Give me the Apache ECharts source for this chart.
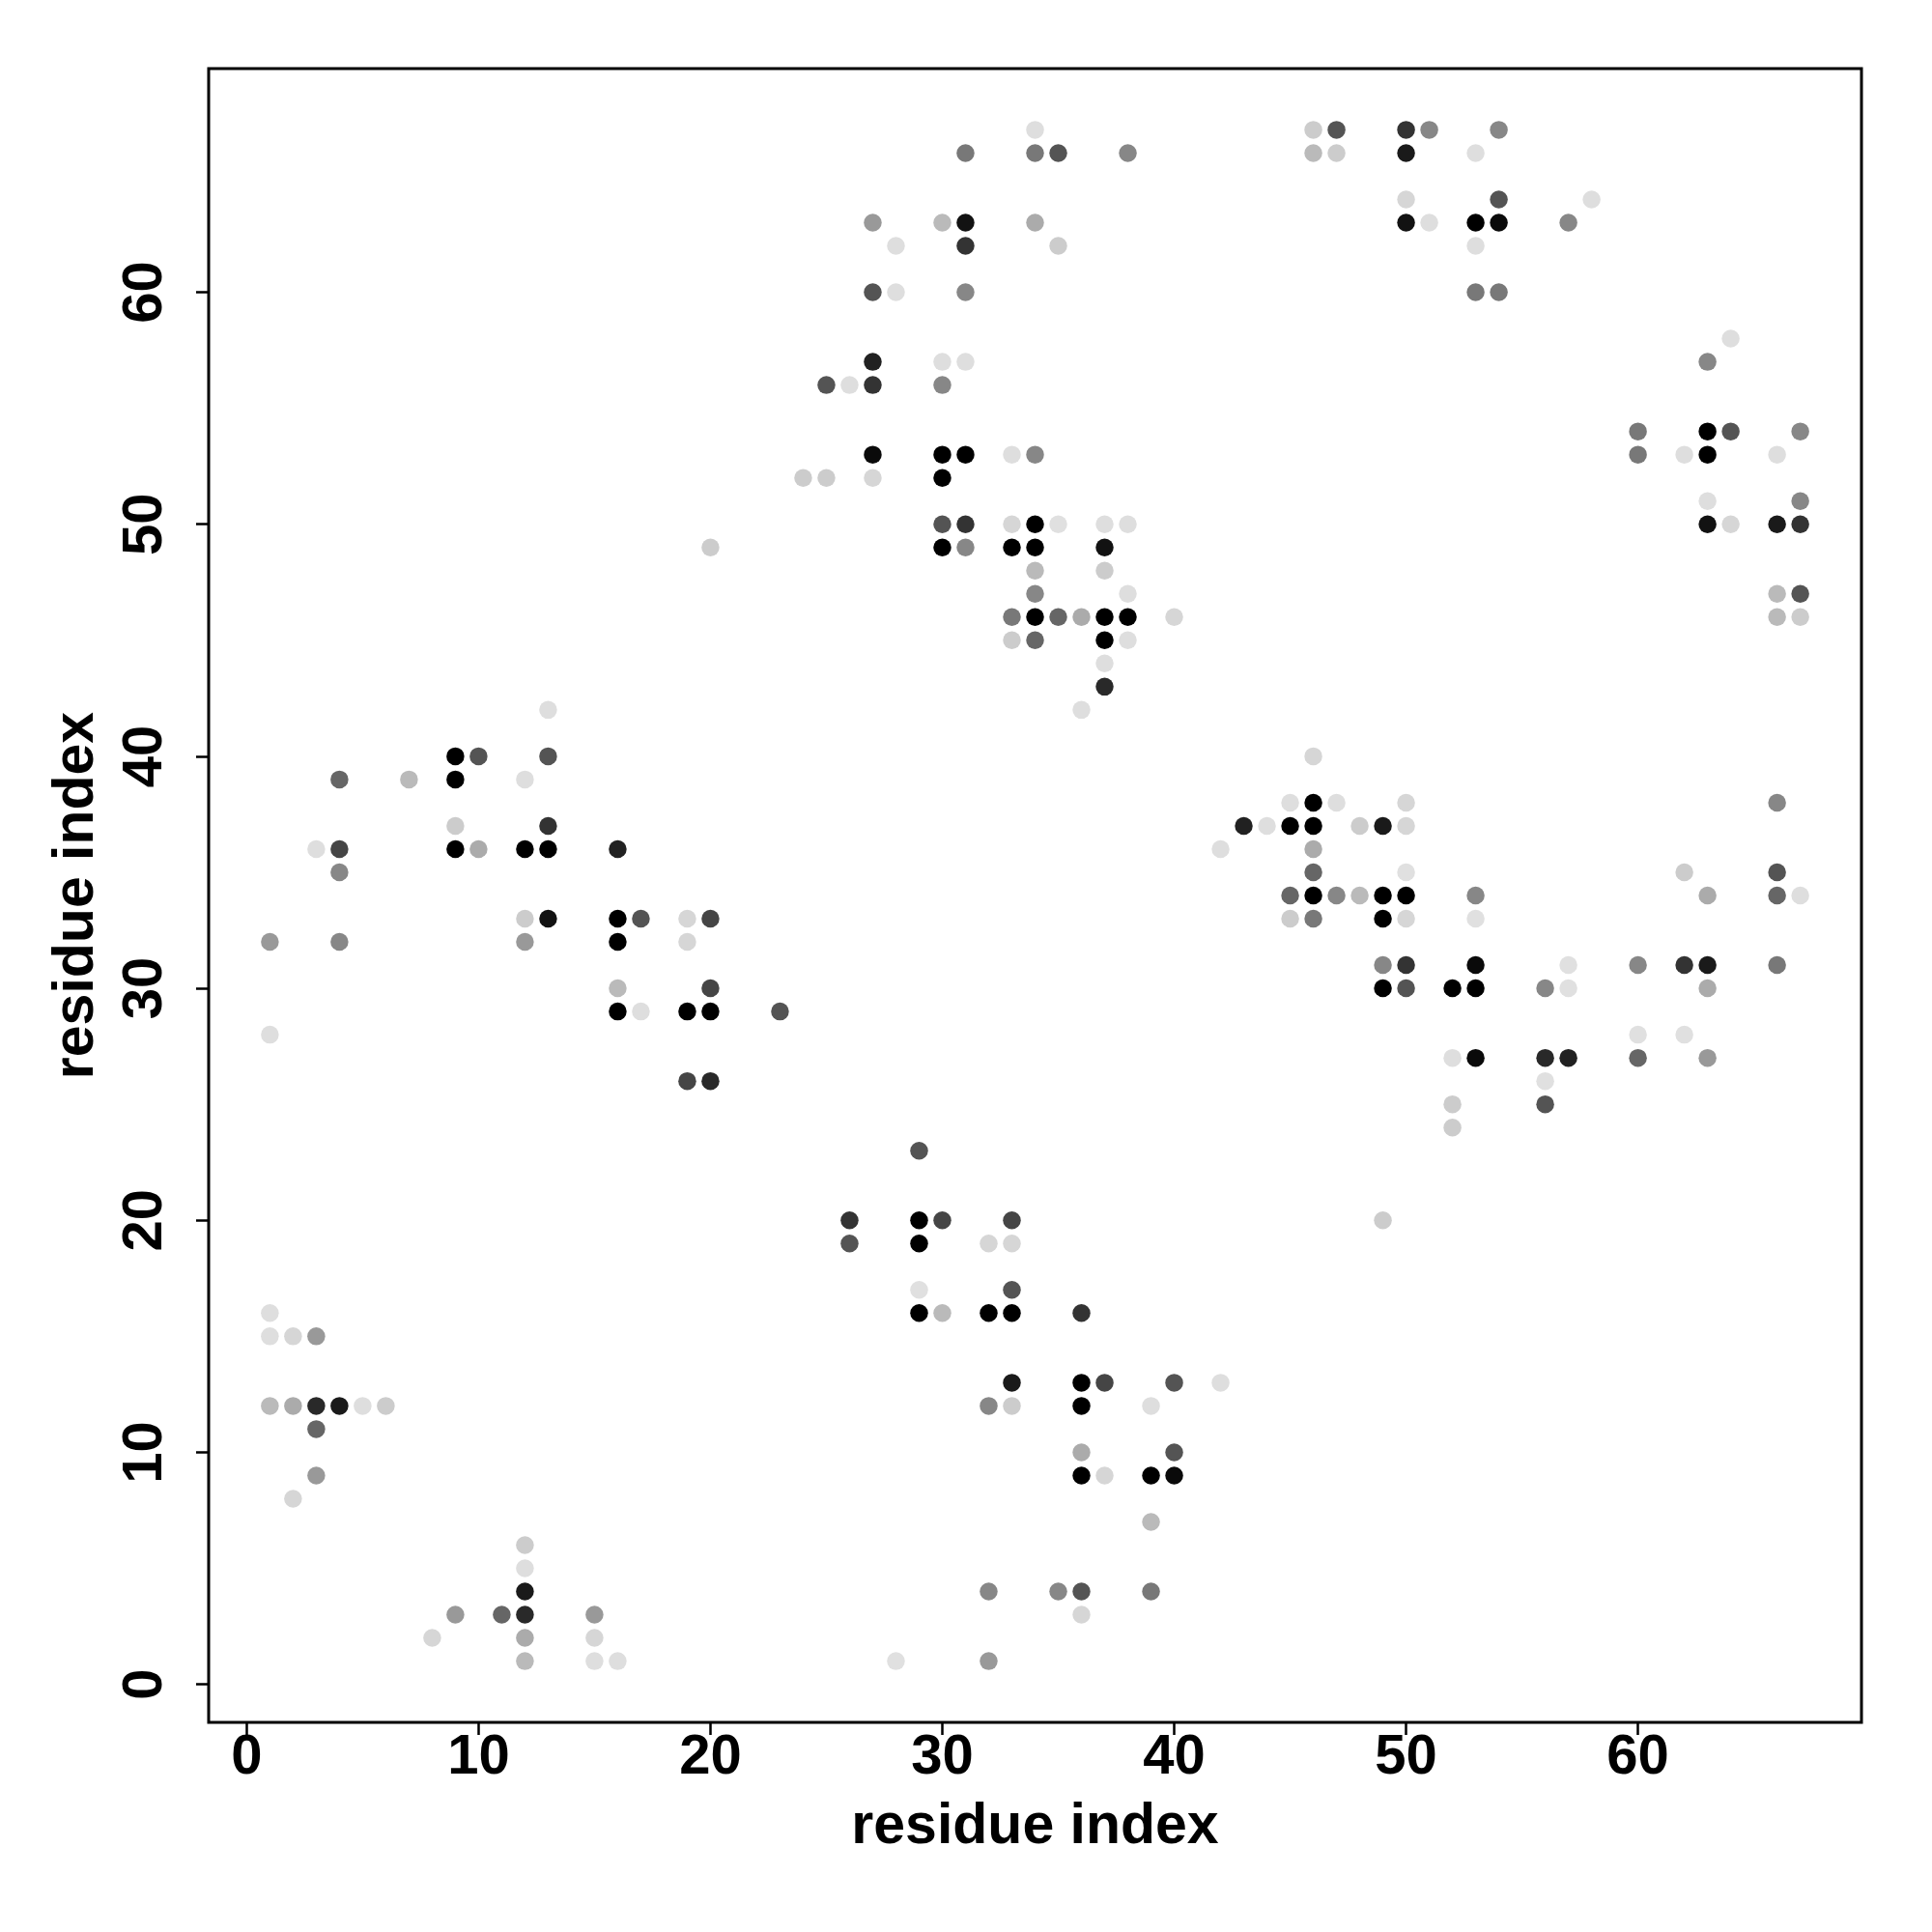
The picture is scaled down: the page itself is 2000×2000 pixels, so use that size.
<!DOCTYPE html>
<html>
<head>
<meta charset="utf-8">
<script src="https://cdn.jsdelivr.net/npm/echarts@6/dist/echarts.min.js"></script>
<style>html,body{margin:0;padding:0;background:#fff}#chart{width:2000px;height:2000px}</style>
</head>
<body>
<div id="chart"></div>
<script>
// residue i (x), residue j (y), contact strength (0 = white, 1 = black)
const resI = [
  1,1,2,3, 1,2,3,4,5,6, 3, 3, 2, 12, 12, 12, 9,11,12,15, 8,12,15, 12,15,16,
  26,29,30,33, 26,29,32,33, 29,33, 29,30,32,33,36, 33,36,37,40,42, 32,33,36,39,
  36,40, 36,37,39,40, 39, 32,35,36,39, 36, 28,32,
  13, 9,10,13, 4,7,9,12, 9,13, 3,4,9,10,12,13,16, 4, 12,13,16,17,19,20,
  1,4,12,16,19, 16,20, 16,17,19,20,23, 1, 19,20, 29,
  34, 31,34,35,38, 27,30,31,34, 28,31,35, 27,28,31, 27,30,31, 25,26,27,30,
  27,30,31,33,34, 24,25,27,30, 30,31,33,34,35,37,38, 20,30,31,33,34,37,
  34,37, 34,38, 33,34,35,36,37,38,40, 33,34,37,38, 37, 37, 36,
  46, 45,46,47,50,66, 43,44,45,46,48,49,50, 42,46, 46,50,62,66,
  45,46,47,48,49,50,53,63,66,67, 45,46,49,50,53, 49,50,53,57,60,62,63,66,
  49,50,52,53,56,57,63, 60,62, 52,53,56,57,60,63, 56, 52,56, 52, 49,
  46,47,50,51,54, 46,47,50,53, 50,54,58, 50,51,53,54,57, 53, 53,54, 64, 63,
  60,63,64,67, 60,62,63,66, 63,67, 63,64,66,67, 66,67, 66,67
];
const resJ = [
  16,15,15,15, 12,12,12,12,12,12, 11, 9, 8, 6, 5, 4, 3,3,3,3, 2,2,2, 1,1,1,
  20,20,20,20, 19,19,19,19, 17,17, 16,16,16,16,16, 13,13,13,13,13, 12,12,12,12,
  10,10, 9,9,9,9, 7, 4,4,4,4, 3, 1,1,
  42, 40,40,40, 39,39,39,39, 37,37, 36,36,36,36,36,36,36, 35, 33,33,33,33,33,33,
  32,32,32,32,32, 30,30, 29,29,29,29,29, 28, 26,26, 23,
  67, 66,66,66,66, 63,63,63,63, 62,62,62, 60,60,60, 57,57,57, 56,56,56,56,
  53,53,53,53,53, 52,52,52,52, 50,50,50,50,50,50,50, 49,49,49,49,49,49,
  48,48, 47,47, 46,46,46,46,46,46,46, 45,45,45,45, 44, 43, 42,
  40, 38,38,38,38,38, 37,37,37,37,37,37,37, 36,36, 35,35,35,35,
  34,34,34,34,34,34,34,34,34,34, 33,33,33,33,33, 31,31,31,31,31,31,31,31,
  30,30,30,30,30,30,30, 28,28, 27,27,27,27,27,27, 26, 25,25, 24, 20,
  67,67,67,67,67, 66,66,66,66, 64,64,64, 63,63,63,63,63, 62, 60,60, 58, 57,
  54,54,54,54, 53,53,53,53, 51,51, 50,50,50,50, 47,47, 46,46
];
const strength = [
  .13,.13,.16,.40, .27,.33,.84,.90,.13,.20, .60, .40, .16, .20, .13, .90, .40,.60,.84,.40, .16,.33,.16, .27,.13,.13,
  .80,1,.73,.73, .67,1,.16,.16, .12,.67, 1,.27,1,1,.80, .90,1,.73,.67,.13, .47,.20,1,.13,
  .33,.67, 1,.16,1,.96, .27, .47,.47,.67,.53, .16, .12,.40,
  .13, 1,.67,.67, .60,.27,1,.13, .20,.80, .13,.73,1,.33,1,1,.87, .47, .20,.93,1,.67,.16,.73,
  .40,.47,.40,1,.16, .27,.73, 1,.13,1,1,.67, .13, .73,.84, .67,
  .13, .53,.53,.67,.47, .40,.27,.93,.33, .13,.80,.20, .67,.13,.47, .87,.13,.13, .67,.13,.80,.47,
  .96,1,1,.13,.47, .20,.20,.16,1, .67,.80,.16,1,.12,.13,.13, .20,1,.47,1,1,.93,
  .27,.20, .47,.13, .53,1,.60,.33,1,1,.16, .20,.60,1,.13, .13, .84, .13,
  .16, .13,1,.13,.16,.47, .87,.13,1,1,.20,.90,.16, .13,.33, .60,.12,.20,.67,
  .60,1,.47,.27,1,1,.47,.33,.60,.13, .20,.53,1,.16,.12, .47,.80,.96,.12,.47,.80,.90,.53,
  1,.67,1,1,.47,.12,.33, .12,.12, .13,.96,.84,.87,.60,.40, .12, .20,.67, .20, .20,
  .20,.67,.80,.47,.47, .27,.20,.90,.13, .16,.67,.13, .93,.13,1,.96,.47, .13, .53,.53, .13, .47,
  .53,1,.67,.47, .53,.13,1,.13, .13,.47, .93,.16,.90,.80, .27,.67, .27,.20
];
const tickValues = [0, 10, 20, 30, 40, 50, 60];
const axisTitle = 'residue index';

if (resI.length !== resJ.length || resI.length !== strength.length) {
  console.error('length mismatch', resI.length, resJ.length, strength.length);
}

const points = resI.map((x, k) => [x, resJ[k], strength[k]]);
const FONT = '"Liberation Sans", Arial, Helvetica, sans-serif';

function makeAxis(isY) {
  return {
    type: 'value',
    min: -1.64,
    max: 69.64,
    splitLine: { show: false },
    axisLine: { show: false, onZero: false },
    axisTick: {
      show: true,
      inside: false,
      customValues: tickValues,
      length: 13,
      lineStyle: { color: '#000', width: 2.5 }
    },
    axisLabel: {
      customValues: tickValues,
      fontSize: 58,
      fontWeight: 'bold',
      fontFamily: FONT,
      color: '#000',
      margin: isY ? 65 : 37,
      rotate: isY ? 90 : 0,
      align: 'center',
      verticalAlign: 'middle'
    },
    name: axisTitle,
    nameLocation: 'middle',
    nameGap: isY ? 136 : 109,
    nameTextStyle: {
      fontSize: 59,
      fontWeight: 'bold',
      fontFamily: FONT,
      color: '#000',
      verticalAlign: 'middle',
      align: 'center'
    }
  };
}

const chart = echarts.init(document.getElementById('chart'), null, { renderer: 'canvas' });
chart.setOption({
  animation: false,
  backgroundColor: '#ffffff',
  grid: {
    show: true,
    left: 216, top: 71, width: 1711, height: 1712,
    borderColor: '#000', borderWidth: 3,
    backgroundColor: 'transparent'
  },
  xAxis: makeAxis(false),
  yAxis: makeAxis(true),
  visualMap: {
    show: false,
    type: 'continuous',
    min: 0, max: 1,
    dimension: 2,
    inRange: { color: ['#ffffff', '#000000'] }
  },
  series: [{
    type: 'scatter',
    symbol: 'circle',
    symbolSize: 18.5,
    data: points,
    itemStyle: { opacity: 1 },
    emphasis: { disabled: true }
  }]
});
</script>
</body>
</html>
